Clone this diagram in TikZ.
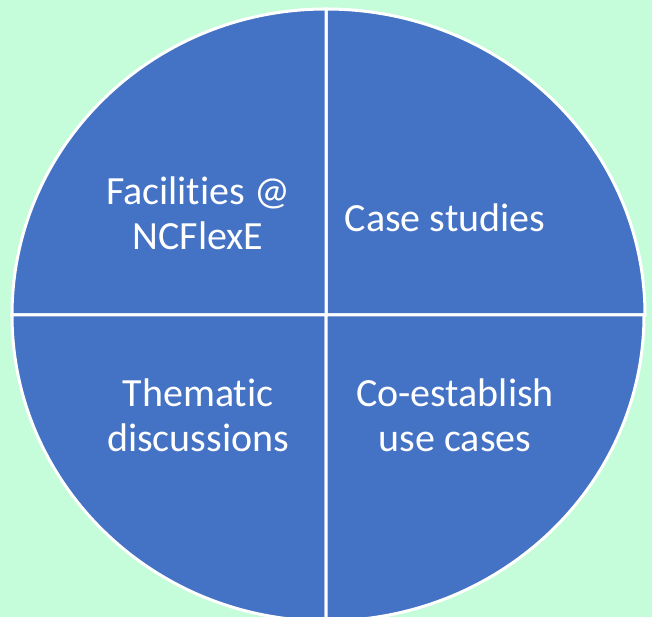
\documentclass[tikz,border=0pt]{standalone}
\usepackage{fontspec}
\setmainfont{Carlito}[Ligatures=NoCommon]
\usepackage{xcolor}
\usepackage{tikz}
\usetikzlibrary{positioning}
\definecolor{mintbg}{HTML}{C5FDDB}
\definecolor{quadblue}{HTML}{4472C4}
\tikzset{
  quad/.style={fill=quadblue, draw=white, line width=3pt, line join=miter},
  label/.style={text=white, align=center, font=\fontsize{40}{45}\selectfont},
}

\begin{document}
\begin{tikzpicture}[x=1pt, y=1pt]
          \useasboundingbox (0,0) rectangle (652,617);
          \fill[mintbg] (0,0) rectangle (652,617);
          \clip (0,0) rectangle (652,617);

          \coordinate (ctr) at (326,302);

          \filldraw[quad] (ctr) -- ++(319,0) arc[start angle=0, end angle=90, x radius=319, y radius=306] -- cycle;
          \filldraw[quad] (ctr) -- ++(0,306) arc[start angle=90, end angle=180, x radius=314, y radius=306] -- cycle;
          \filldraw[quad] (ctr) -- ++(-314,0) arc[start angle=180, end angle=270, x radius=314, y radius=306] -- cycle;
          \filldraw[quad] (ctr) -- ++(0,-306) arc[start angle=270, end angle=360, x radius=318, y radius=306] -- cycle;

          \node[label] (facil) at (198,404) {Facilities @\\NCFlexE};
          \node[label] (cases) at (445,399) {Case studies};
          \node[label] (thema) at (198,202) {Thematic\\discussions};
          \node[label] (coest) at (455,202) {Co-establish\\use cases};
        \end{tikzpicture}
\end{document}
